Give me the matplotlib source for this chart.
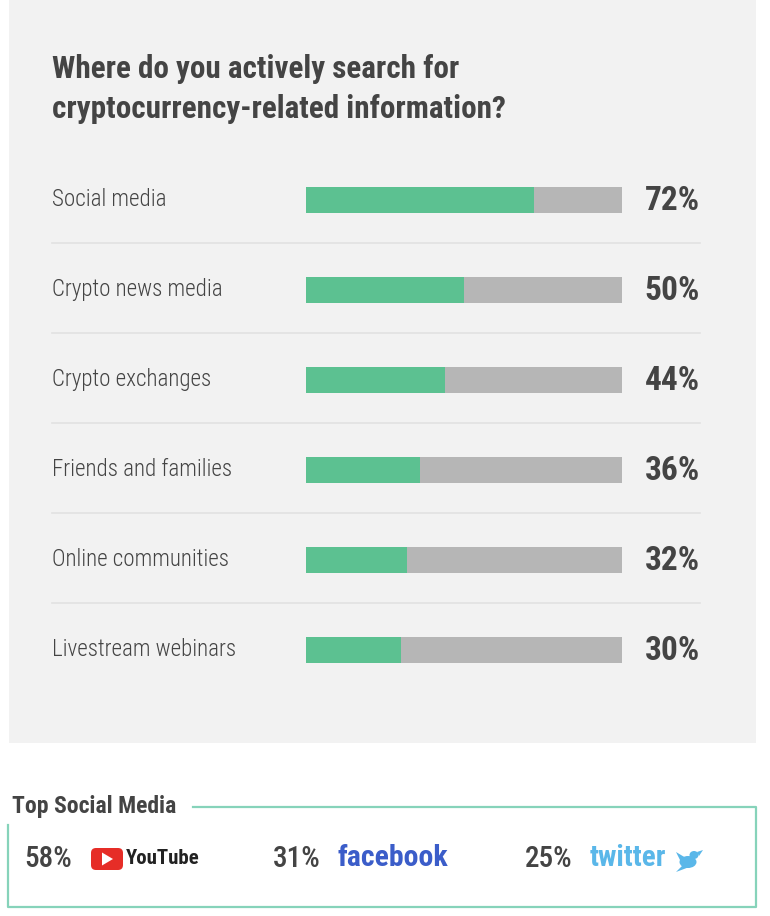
import matplotlib
matplotlib.use("Agg")
import matplotlib.pyplot as plt
from matplotlib.patches import Rectangle, FancyBboxPatch, Polygon, Ellipse
from matplotlib.transforms import blended_transform_factory

plt.rcParams['font.family'] = ['Roboto Condensed', 'Roboto', 'DejaVu Sans']

# data
categories = ["Social media", "Crypto news media", "Crypto exchanges",
              "Friends and families", "Online communities", "Livestream webinars"]
shares = [72, 50, 44, 36, 32, 30]

platforms = ["YouTube", "facebook", "twitter"]
platform_shares = [58, 31, 25]

title = "Where do you actively search for\ncryptocurrency-related information?"
box_title = "Top Social Media"

GREEN = "#5cc191"
GREY = "#b6b6b6"
TEXT = "#444444"
PANEL = "#f2f2f2"
TEAL = "#86d3ba"

W, H = 770, 916
fig = plt.figure(figsize=(W / 100, H / 100), dpi=100)
fig.patch.set_facecolor("white")

# background axes in pixel coordinates
bg = fig.add_axes([0, 0, 1, 1])
bg.set_xlim(0, W)
bg.set_ylim(H, 0)
bg.axis("off")

bg.add_patch(Rectangle((9, 0), 747, 743, color=PANEL, lw=0, zorder=0))
bg.text(52, 89, title, fontsize=22.4, fontweight="bold", color=TEXT,
        va="center", ha="left", linespacing=1.42)

# bar axes: row i centered at y = 200 + 90*i px, bars from 306 to 622 px
ax = fig.add_axes([306 / W, 1 - 695 / H, 316 / W, 540 / H])
ax.set_xlim(0, 100)
ax.set_ylim(len(categories) - 0.5, -0.5)
ax.axis("off")
ax.patch.set_alpha(0)

rows = range(len(categories))
ax.barh(rows, [100] * len(categories), height=0.29, color=GREY, lw=0)
ax.barh(rows, shares, height=0.29, color=GREEN, lw=0)

tr = blended_transform_factory(fig.transFigure, ax.transData)
for i, (cat, v) in enumerate(zip(categories, shares)):
    ax.text(52 / W, i - 0.01, cat, transform=tr, fontsize=16.6, color=TEXT,
            fontweight="light", va="center", ha="left")
    ax.text(700 / W, i + 0.01, f"{v}%", transform=tr, fontsize=24,
            fontweight="bold", color=TEXT, va="center", ha="right")
    if i < len(categories) - 1:
        ax.plot([52 / W, 700 / W], [i + 0.48, i + 0.48], transform=tr,
                color="#e2e2e2", lw=1.2, clip_on=False)

# bottom box
bg.text(12, 806, box_title, fontsize=17, fontweight="bold", color=TEXT,
        va="center", ha="left")
bg.plot([193, 756, 756, 8, 8], [807, 807, 907, 907, 825], color=TEAL, lw=1.6)

item_x = [24, 273, 525]
for x, name, v in zip(item_x, platforms, platform_shares):
    bg.text(x, 859, f"{v}%", fontsize=21, fontweight="medium", color=TEXT,
            va="center", ha="left")

# YouTube logo
bg.add_patch(FancyBboxPatch((91, 848), 32, 22, boxstyle="round,pad=0,rounding_size=5",
                            color="#e62d27", lw=0))
bg.add_patch(Polygon([[102, 852.5], [102, 865.5], [113, 859]], color="white", lw=0))
bg.text(126, 859, platforms[0], fontsize=15, fontweight="bold", color="#222222",
        va="center", ha="left")
# facebook wordmark
bg.text(338, 858, platforms[1], fontsize=21.5, fontweight="bold", color="#3b5dc9",
        va="center", ha="left")
# twitter wordmark + bird
bg.text(590, 858, platforms[2], fontsize=21, fontweight="bold", color="#5ab7e9",
        va="center", ha="left")
bg.add_patch(Ellipse((688, 862), 17, 12, color="#5ab7e9", lw=0))
bg.add_patch(Ellipse((694, 855), 9, 8, color="#5ab7e9", lw=0))
bg.add_patch(Polygon([[676, 852], [686, 858], [682, 864]], color="#5ab7e9", lw=0))
bg.add_patch(Polygon([[682, 866], [692, 866], [676, 872]], color="#5ab7e9", lw=0))
bg.add_patch(Polygon([[697, 852], [703, 850], [699, 856]], color="#5ab7e9", lw=0))

fig.savefig("out.png", dpi=100, facecolor=fig.get_facecolor())
